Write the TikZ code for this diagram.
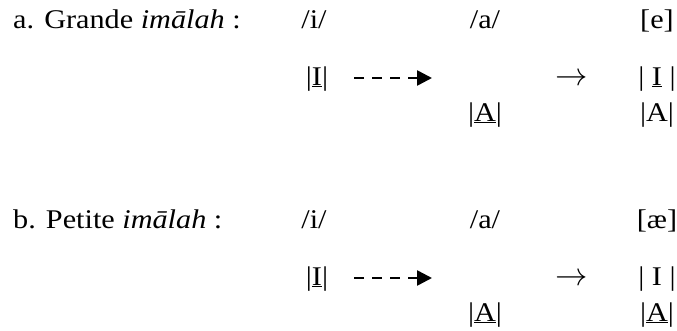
\documentclass[tikz,border=0pt]{standalone}
\usepackage{fontspec}
\setmainfont[FakeStretch=1.12]{Liberation Serif}
\usetikzlibrary{arrows.meta}
\begin{document}
\begin{tikzpicture}[x=1pt,y=-1pt,line cap=butt,font=\fontsize{27}{32}\selectfont]
	\useasboundingbox (0,0) rectangle (677,330);
	\tikzset{seg/.style={anchor=base,inner sep=0pt},
		dasharrow/.style={line width=2.6pt,dash pattern=on 10pt off 8pt,-{Triangle[length=15pt,width=15pt]}}}
	\foreach \r/\y/\lab/\out/\topI/\botA in {a/0/{a. Grande \textit{imālah} :}/{[e]}/{\underline{I}}/{A},
		b/200/{b. Petite \textit{imālah} :}/{[æ]}/{I}/{\underline{A}}}{
		\node[seg,anchor=base west] (lab\r) at (13,28+\y) {\lab};
		\node[seg] (i\r) at (314,28+\y) {/i/};
		\node[seg] (a\r) at (485,28+\y) {/a/};
		\node[seg] (out\r) at (657,28+\y) {\out};
		\node[seg] (I\r) at (317,85+\y) {|\underline{I}|};
		\node[seg] (to\r) at (572,85+\y) {\scalebox{1.3}{$\rightarrow$}};
		\node[seg] (Iout\r) at (657,85+\y) {| \topI\ |};
		\node[seg] (A\r) at (485,121+\y) {|\underline{A}|};
		\node[seg] (Aout\r) at (657,121+\y) {|\botA|};
		\coordinate (de\r) at (432,78+\y);
		\draw[dasharrow,shorten <=26pt] (I\r.east |- de\r) -- (de\r);
	}
\end{tikzpicture}
\end{document}
